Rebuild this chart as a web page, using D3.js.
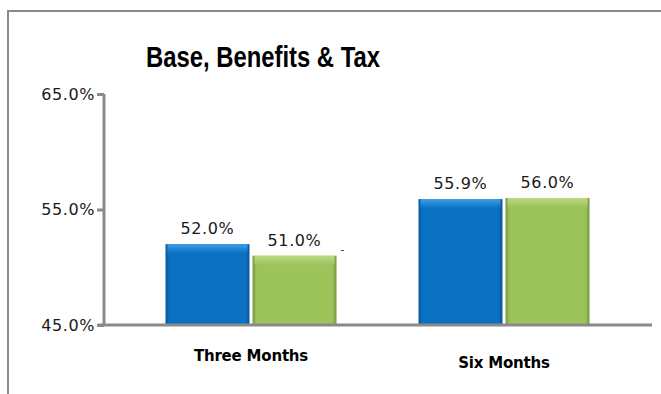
<!DOCTYPE html>
<html>
<head>
<meta charset="utf-8">
<script src="https://cdn.jsdelivr.net/npm/d3@7/dist/d3.min.js"></script>
<style>
  html, body { margin: 0; padding: 0; background: #fff; }
  svg { display: block; }
</style>
</head>
<body>
<svg id="chart" width="661" height="394"></svg>
<script>
// Chart data
const categories = ["Three Months", "Six Months"];
const seriesNames = ["Base", "Benefits & Tax"];
const seriesValues = [
  [52.0, 55.9],   // Base
  [51.0, 56.0]    // Benefits & Tax
];
const yTicks = [45, 55, 65];
const title = "Base, Benefits & Tax";

const svg = d3.select("#chart");
const W = 661, H = 394;

// Outer frame (top and left edges visible, right/bottom run off the canvas)
svg.append("rect")
  .attr("x", 8).attr("y", 11)
  .attr("width", W + 10).attr("height", H + 10)
  .attr("fill", "#fff")
  .attr("stroke", "#8a8a8a").attr("stroke-width", 2);

const y = d3.scaleLinear().domain([45, 65]).range([325, 94]);
const x0 = d3.scaleBand().domain(categories).range([124.5, 630.5]);
const x1 = d3.scaleBand().domain(seriesNames).range([41, 212]).paddingInner(0.035);

const colors = {
  "Base": { base: "#0b71c3", light: "#3d9fe6", dark: "#07589c" },
  "Benefits & Tax": { base: "#9dc35b", light: "#bcd987", dark: "#76963e" }
};

// Gradients for the bevelled bars
const defs = svg.append("defs");
seriesNames.forEach((s, i) => {
  const c = colors[s];
  const g = defs.append("linearGradient").attr("id", "hg" + i)
    .attr("x1", "0").attr("x2", "1").attr("y1", "0").attr("y2", "0");
  g.append("stop").attr("offset", "0").attr("stop-color", c.dark);
  g.append("stop").attr("offset", "0.05").attr("stop-color", c.base);
  g.append("stop").attr("offset", "0.95").attr("stop-color", c.base);
  g.append("stop").attr("offset", "1").attr("stop-color", c.dark);
  const t = defs.append("linearGradient").attr("id", "tg" + i)
    .attr("x1", "0").attr("x2", "0").attr("y1", "0").attr("y2", "1");
  t.append("stop").attr("offset", "0").attr("stop-color", c.light);
  t.append("stop").attr("offset", "1").attr("stop-color", c.base);
});

// Title
svg.append("text")
  .attr("x", 263).attr("y", 67)
  .attr("text-anchor", "middle")
  .attr("font-family", "'Liberation Sans Narrow', 'Liberation Sans', Arial, sans-serif")
  .attr("font-weight", "bold")
  .attr("font-size", 29)
  .attr("textLength", 234).attr("lengthAdjust", "spacingAndGlyphs")
  .attr("fill", "#000")
  .text(title);

// Bars
const rows = [];
categories.forEach((cat, ci) => {
  seriesNames.forEach((s, si) => {
    rows.push({ cat, s, si, v: seriesValues[si][ci] });
  });
});

const bars = svg.append("g").selectAll("g.bar").data(rows).join("g").attr("class", "bar");
bars.append("rect")
  .attr("x", d => x0(d.cat) + x1(d.s))
  .attr("y", d => y(d.v))
  .attr("width", x1.bandwidth())
  .attr("height", d => y(45) - y(d.v))
  .attr("fill", d => `url(#hg${d.si})`);
bars.append("rect")
  .attr("x", d => x0(d.cat) + x1(d.s) + 2)
  .attr("y", d => y(d.v))
  .attr("width", x1.bandwidth() - 4)
  .attr("height", 9)
  .attr("fill", d => `url(#tg${d.si})`);

// Value labels
svg.append("g").selectAll("text").data(rows).join("text")
  .attr("x", d => x0(d.cat) + x1(d.s) + x1.bandwidth() / 2)
  .attr("y", d => y(d.v) - 10)
  .attr("text-anchor", "middle")
  .attr("font-family", "'DejaVu Sans', Verdana, sans-serif")
  .attr("font-size", 16)
  .attr("letter-spacing", 0.6)
  .attr("fill", "#1a1a1a")
  .text(d => d.v.toFixed(1) + "%");

// Stray dash beside the second label
const r2 = rows[1];
svg.append("text")
  .attr("x", x0(r2.cat) + x1(r2.s) + x1.bandwidth() + 6)
  .attr("y", y(r2.v) - 3)
  .attr("text-anchor", "middle")
  .attr("font-family", "'DejaVu Sans', sans-serif")
  .attr("font-size", 11)
  .attr("fill", "#333")
  .text("-");

// Y axis
const yAxis = d3.axisLeft(y).tickValues(yTicks)
  .tickFormat(d => d.toFixed(1) + "%").tickSize(7).tickPadding(2);
const yg = svg.append("g").attr("transform", "translate(104,0)").call(yAxis);
yg.select(".domain").attr("stroke", "#8a8a8a").attr("stroke-width", 3).attr("d", `M0,${y(65)}V${y(45)}`);
yg.selectAll(".tick line").attr("stroke", "#8a8a8a").attr("stroke-width", 3);
yg.selectAll(".tick text")
  .attr("font-family", "'DejaVu Sans', Verdana, sans-serif")
  .attr("font-size", 16).attr("letter-spacing", 0.6)
  .attr("fill", "#1a1a1a");

// X axis baseline
svg.append("line")
  .attr("x1", 98).attr("x2", 652)
  .attr("y1", y(45)).attr("y2", y(45))
  .attr("stroke", "#8a8a8a").attr("stroke-width", 3);

// Category labels
const catY = { "Three Months": 361, "Six Months": 368 };
svg.append("g").selectAll("text").data(categories).join("text")
  .attr("x", d => x0(d) + x0.bandwidth() / 2)
  .attr("y", d => catY[d])
  .attr("text-anchor", "middle")
  .attr("font-family", "'DejaVu Sans', Tahoma, sans-serif")
  .attr("font-weight", "bold")
  .attr("font-size", 15)
  .attr("letter-spacing", -0.2)
  .attr("fill", "#000")
  .text(d => d);
</script>
</body>
</html>
